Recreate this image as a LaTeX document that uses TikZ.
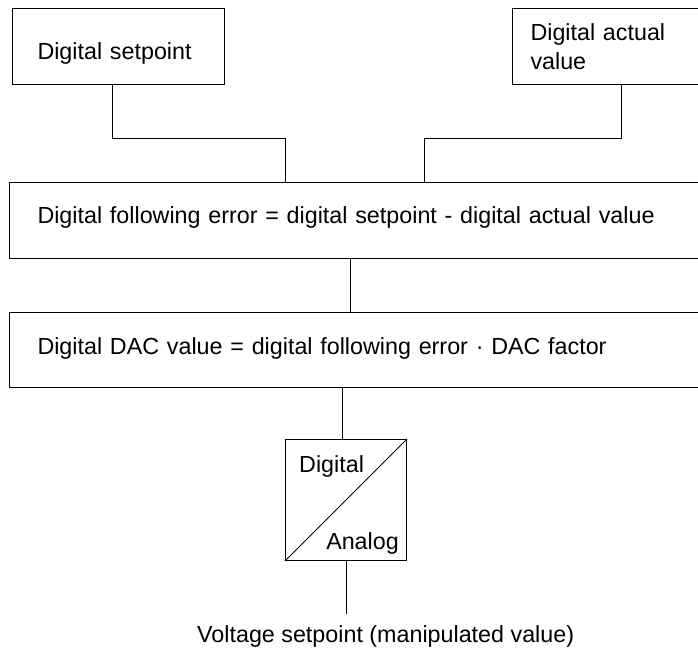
\documentclass[tikz,border=0pt]{standalone}
\usepackage{fontspec}
\setmainfont{Liberation Sans}
\usetikzlibrary{positioning,calc}

\begin{document}
\begin{tikzpicture}[
   x=1pt, y=-1pt,
   font=\fontsize{23.3}{29}\selectfont,
   block/.style={draw, line width=1pt, align=left, inner ysep=0pt, anchor=north west},
   wire/.style={draw, line width=1pt},
   lbl/.style={inner sep=0pt}]
  \useasboundingbox (0,0) rectangle (698,648);
  \node[block, text width=162pt, inner xsep=25pt, text height=51pt, text depth=25pt] (setp) at (12,8) {Digital setpoint};
  \node[block, text width=152pt, inner xsep=18pt, minimum height=76pt] (act) at (512,8) {Digital actual\\value};
  \node[block, text width=635pt, inner xsep=28pt, text height=41pt, text depth=35pt] (ferr) at (9,182) {Digital following error = digital setpoint - digital actual value};
  \node[block, text width=635pt, inner xsep=28pt, text height=42pt, text depth=33pt] (dacval) at (9,312) {Digital DAC value = digital following error · DAC factor};
  \node[draw, line width=1pt, minimum size=121pt, anchor=north west, inner sep=0pt] (dac) at (285,439) {};
  \node[lbl, anchor=base west] (dig) at ($(dac.north west)+(14,33)$) {Digital};
  \node[lbl, anchor=base east] (ana) at ($(dac.south east)+(-8,-12)$) {Analog};
  \node[lbl, anchor=base west, inner ysep=11pt] (vout) at (197,642) {Voltage setpoint (manipulated value)};
  % Connections
  \draw[wire] ($(setp.south west)+(100,0)$) -- ++(0,53) -| ($(ferr.north west)+(276,0)$);
  \draw[wire] ($(act.south west)+(109,0)$) -- ++(0,53) -| ($(ferr.north west)+(415,0)$);
  \draw[wire] ($(ferr.south west)+(341,0)$) -- ($(dacval.north west)+(341,0)$);
  \draw[wire] ($(dacval.south west)+(333,0)$) |- (dac.north);
  \draw[wire] (dac.south) -- (dac.south |- vout.north);
  \draw[wire] (dac.south west) -- (dac.north east);
\end{tikzpicture}
\end{document}
